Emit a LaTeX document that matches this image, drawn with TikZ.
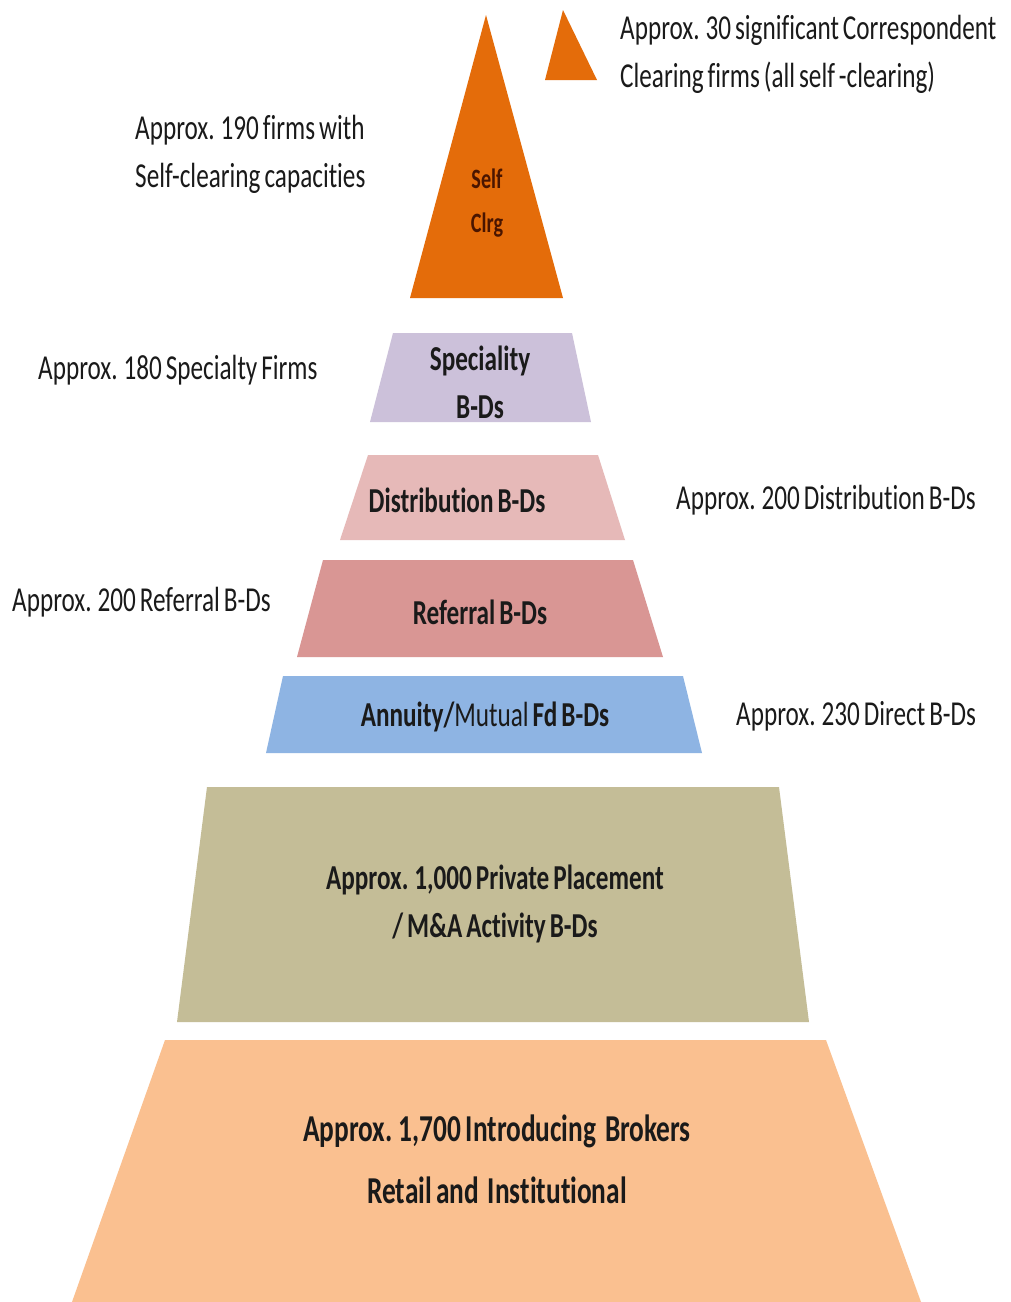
\documentclass[tikz,border=0pt]{standalone}
\usepackage{fontspec}
\setmainfont{Carlito}[FakeStretch=0.72, WordSpace=0.7, Ligatures=NoCommon]
\definecolor{clrorange}{HTML}{E46C0A}
\definecolor{clrspec}{HTML}{CCC1DA}
\definecolor{clrdist}{HTML}{E6B9B8}
\definecolor{clrref}{HTML}{D99694}
\definecolor{clrann}{HTML}{8EB4E3}
\definecolor{clrpriv}{HTML}{C4BD97}
\definecolor{clrintro}{HTML}{FAC090}
\definecolor{clrtext}{HTML}{1A1A1A}
\definecolor{clrself}{HTML}{4A1500}
\begin{document}
\begin{tikzpicture}[x=1pt,y=-1pt,
  sidelabel/.style={font=\fontsize{35}{48}\selectfont, text=clrtext, align=left, inner sep=0pt, anchor=west},
  inlabel/.style={font=\fontsize{35}{48}\selectfont\bfseries, text=clrtext, align=center, inner sep=0pt},
]
\useasboundingbox (0,0) rectangle (1011,1302);
\fill[white] (0,0) rectangle (1011,1302);
% shapes
\fill[clrorange] (486,15) -- (563,298) -- (410,298) -- cycle;
\fill[clrorange] (563,10) -- (597,80) -- (545,80) -- cycle;
\fill[clrspec] (393,333) -- (572,333) -- (591,422) -- (370,422) -- cycle;
\fill[clrdist] (368,455) -- (598,455) -- (625,540) -- (340,540) -- cycle;
\fill[clrref] (323,560) -- (633,560) -- (663,657) -- (297,657) -- cycle;
\fill[clrann] (283,676) -- (683,676) -- (702,753) -- (266,753) -- cycle;
\fill[clrpriv] (207,787) -- (779,787) -- (809,1022) -- (177,1022) -- cycle;
\fill[clrintro] (165,1040) -- (826,1040) -- (921,1302) -- (72,1302) -- cycle;
% inner labels
\node[inlabel, font=\fontsize{28}{44}\selectfont\bfseries, text=clrself] (selfclrg) at (487,203) {Self\\Clrg};
\node[inlabel] (spec) at (480,382) {Speciality\\B-Ds};
\node[inlabel] (dist) at (457,500) {Distribution B-Ds};
\node[inlabel] (ref) at (480,612) {Referral B-Ds};
\node[inlabel] (ann) at (485,717) {Annuity/\mdseries Mutual \bfseries Fd B-Ds};
\node[inlabel] (priv) at (495,904) {Approx. 1,000 Private Placement\\/ M\&A Activity B-Ds};
\node[inlabel, font=\fontsize{38}{62}\selectfont\bfseries] (intro) at (497,1159) {Approx. 1,700 Introducing\ \ Brokers\\Retail and\ \ Institutional};
% side labels
\node[sidelabel] (corr) at (620,54) {Approx. 30 significant Correspondent\\Clearing firms (all self -clearing)};
\node[sidelabel] (self190) at (135,154) {Approx. 190 firms with\\Self-clearing capacities};
\node[sidelabel] (spec180) at (38,370) {Approx. 180 Specialty Firms};
\node[sidelabel] (dist200) at (676,500) {Approx. 200 Distribution B-Ds};
\node[sidelabel] (ref200) at (12,602) {Approx. 200 Referral B-Ds};
\node[sidelabel] (dir230) at (736,716) {Approx. 230 Direct B-Ds};
\end{tikzpicture}
\end{document}
